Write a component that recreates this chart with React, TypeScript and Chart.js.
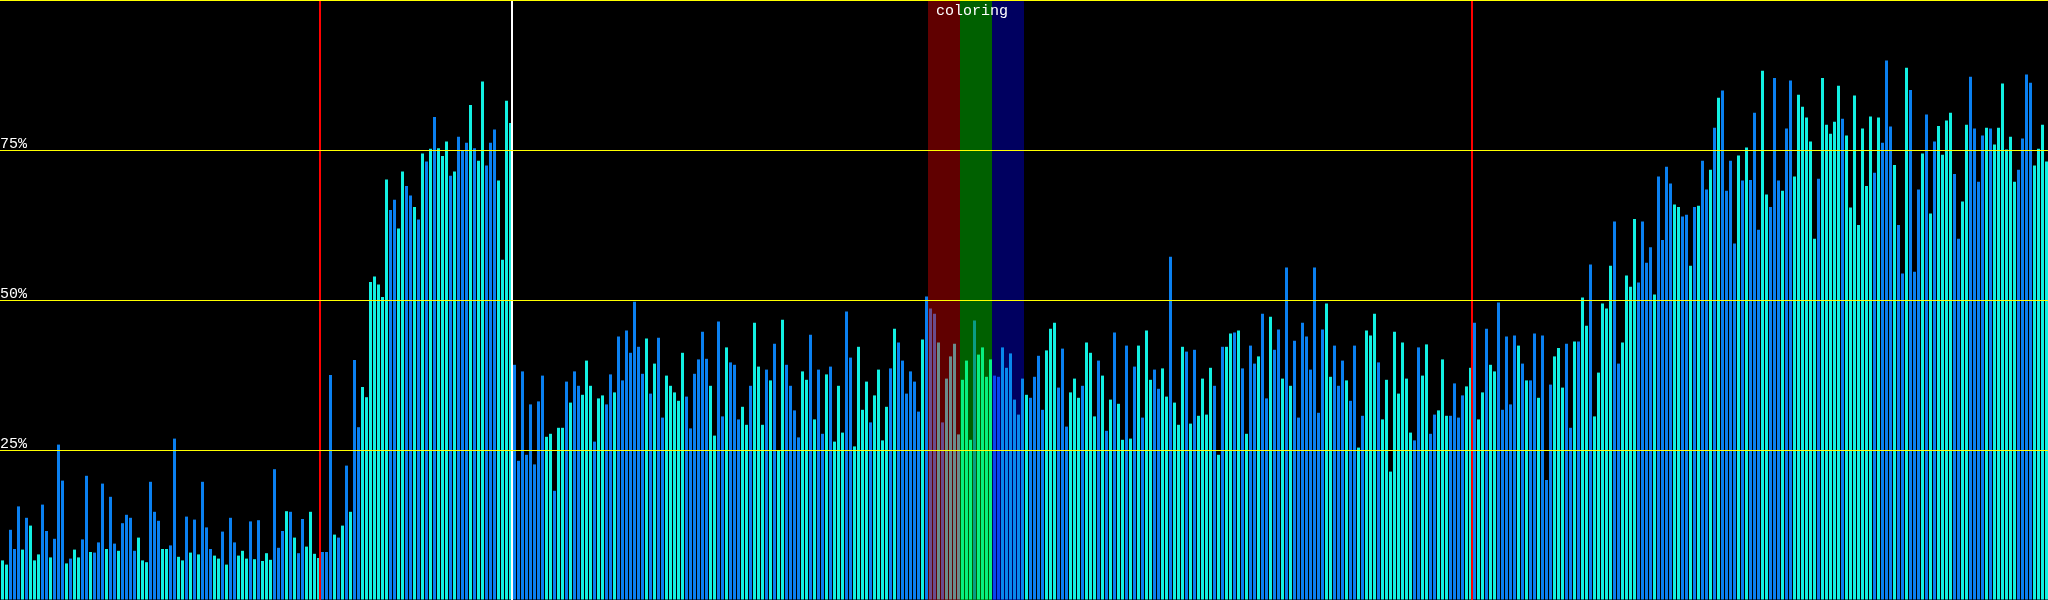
import React, { useEffect, useRef } from "react";
import { Chart, registerables } from "chart.js";

Chart.register(...registerables);

// Bar heights (% of full scale), 64 bars per segment, 512 bars in total
const valuesA = [6.6,5.9,11.7,8.5,15.6,8.4,13.7,12.4,6.6,7.6, 15.9,11.5,7.1,10.2,25.9,19.9,6.1,6.9,8.4,7.1, 10.1,20.7,8.0,7.9,9.6,19.4,8.5,17.2,9.4,8.2, 12.8,14.2,13.7,8.2,10.4,6.6,6.3,19.7,14.7,13.2, 8.5,8.5,9.1,26.9,7.2,6.6,13.9,7.9,13.4,7.6, 19.7,12.1,8.5,7.4,6.9,11.4,5.9,13.7,9.6,7.4, 8.2,6.9,13.1,6.8];
const valuesB = [13.3,6.5,7.8,6.7,21.8,8.7,11.5,14.8,14.7,10.4, 7.8,13.5,8.9,14.7,7.7,7.0,8.0,8.0,37.5,10.9, 10.4,12.4,22.4,14.7,40.0,28.8,35.5,33.8,53.0,53.9, 52.6,50.5,70.1,65.0,66.7,61.9,71.4,69.0,67.4,65.5, 63.4,74.4,73.1,75.2,80.5,75.3,74.0,76.4,70.7,71.4, 77.2,75.0,76.2,82.5,75.3,73.2,86.4,72.4,76.2,78.4, 69.9,56.7,83.2,79.5];
const valuesC = [39.2,23.2,38.1,24.2,32.6,22.6,33.1,37.4,27.2,27.7, 18.2,28.7,28.7,36.4,32.9,38.1,35.7,34.2,39.9,35.7, 26.4,33.6,34.1,32.6,37.6,34.6,43.9,36.6,44.9,41.2, 49.7,42.2,37.7,43.6,34.4,39.4,43.7,30.4,37.4,35.7, 34.6,33.2,41.2,33.9,28.6,37.7,40.1,44.7,40.2,35.7, 27.4,46.4,30.6,42.1,39.6,39.2,30.1,32.2,29.2,35.7, 46.2,38.9,29.2,38.4];
const valuesD = [36.6,42.7,25.0,46.7,39.2,35.7,31.6,27.1,38.1,36.7, 44.2,30.1,38.4,27.7,37.6,38.9,26.4,35.7,27.9,48.1, 40.4,25.6,42.2,31.7,36.4,29.6,34.1,38.4,26.6,32.2, 38.6,45.2,42.9,39.9,34.4,38.1,36.4,31.4,43.4,50.6, 48.6,47.7,42.9,29.6,36.9,40.6,42.7,27.6, 36.7,39.9,26.7,46.6,40.9,42.1,37.2,40.1, 37.4,37.2,42.1,38.7,41.1,33.4,30.9,36.9];
const valuesE = [34.2,33.7,37.2,40.7,31.7,41.6,45.2,46.2,35.4,41.9, 28.9,34.6,36.9,33.7,35.7,42.9,41.2,30.6,39.9,37.4, 28.2,33.4,44.6,32.7,26.7,42.4,26.9,38.9,42.4,30.4, 44.9,36.7,38.4,35.2,38.6,33.9,57.2,32.9,29.2,42.2, 41.4,29.4,41.7,30.7,36.9,30.9,38.7,35.7,24.2,42.2, 42.2,44.4,44.6,44.9,38.6,27.7,42.4,39.4,40.6,47.7, 33.6,47.2,41.7,45.1];
const valuesF = [36.9,55.4,35.7,43.2,30.4,46.2,43.9,38.4,55.4,31.2, 45.1,49.4,37.2,42.4,35.7,39.9,36.6,33.2,42.4,25.4, 30.7,44.9,44.1,47.7,39.6,30.1,36.7,21.4,44.7,34.4, 42.9,36.9,27.9,26.6,42.1,37.4,42.6,27.7,30.9,31.6, 40.1,30.7,30.7,36.1,30.4,34.1,35.6,38.7,46.2,30.1, 34.6,45.2,39.2,38.1,49.6,31.7,43.9,32.6,44.1,42.4, 39.4,36.6,36.6,44.4];
const valuesG = [33.7,44.1,20.0,35.9,40.6,42.0,35.4,42.7,28.7,43.1, 43.1,50.4,45.7,55.9,30.6,37.9,49.4,48.6,55.7,63.1, 39.4,42.9,54.1,52.2,63.5,52.9,63.1,56.2,58.8,50.9, 70.6,60.0,72.2,69.4,65.9,65.5,63.9,64.2,55.7,65.5, 65.7,73.2,68.4,71.7,78.7,83.7,84.9,68.2,73.2,59.4, 74.1,69.9,75.4,70.0,81.2,61.7,88.2,67.6,65.5,87.0, 69.9,68.2,78.6,86.6];
const valuesH = [70.6,84.2,82.2,80.4,76.4,60.2,70.2,87.0,79.2,77.7, 79.7,85.7,80.2,77.4,65.4,84.1,62.5,78.6,69.0,80.6, 71.2,80.4,76.2,89.9,78.9,72.5,62.5,54.4,88.7,85.0, 54.7,68.4,74.4,80.9,64.4,76.4,79.0,74.2,79.9,81.2, 71.0,60.2,66.4,79.2,87.2,78.6,69.7,77.4,78.7,78.6, 75.9,78.7,86.1,75.1,77.2,69.7,71.7,76.9,87.6,86.2, 72.4,75.2,79.2,73.1];

// Bar kind per bar (0 = blue, 1 = cyan)
const kindsA = [1,1,0,0,0,1,0,1,1,1, 0,0,1,0,0,0,1,0,1,1, 0,0,1,0,0,0,1,0,0,1, 0,0,0,0,1,1,1,0,0,0, 1,1,0,0,1,1,0,1,0,1, 0,0,0,1,1,0,1,0,0,1, 1,1,0,1];
const kindsB = [0,1,1,1,0,0,0,1,0,1, 0,0,1,1,1,1,0,0,0,1, 0,1,0,1,0,0,1,1,1,1, 1,1,1,0,0,1,1,0,0,1, 0,1,0,1,0,1,1,1,0,1, 0,0,0,1,0,1,1,0,0,0, 1,1,1,1];
const kindsC = [0,0,0,0,0,0,0,0,1,1, 0,1,1,0,1,0,0,1,1,1, 0,1,1,0,0,1,0,0,0,0, 0,0,0,1,0,1,0,0,1,1, 1,1,1,0,0,0,0,0,0,1, 1,0,0,1,0,0,0,1,1,0, 1,1,1,0];
const kindsD = [1,0,1,1,0,0,0,0,1,1, 0,1,0,0,1,0,1,1,1,0, 0,1,1,1,1,0,1,1,1,1, 0,1,0,0,0,0,0,0,1,0, 0,0,1,0,1,1,1,1, 1,1,1,0,1,1,1,1, 0,0,1,1,1,1,1,1];
const kindsE = [1,0,0,0,0,1,1,1,0,0, 0,1,1,1,0,1,1,1,0,1, 0,1,0,1,1,0,1,0,1,0, 1,1,0,0,1,1,0,1,1,1, 0,1,0,1,1,1,1,0,1,0, 1,1,0,1,0,1,0,0,1,0, 0,1,0,0];
const kindsF = [1,0,1,0,0,0,0,0,0,0, 0,1,1,0,0,0,1,0,0,1, 0,1,1,1,0,1,1,1,1,1, 1,1,1,0,0,1,1,0,0,1, 1,1,0,0,0,0,1,1,0,1, 1,0,1,1,0,0,0,0,0,1, 0,1,0,0];
const kindsG = [1,0,0,0,1,1,1,0,0,1, 0,1,1,0,1,1,1,1,1,0, 0,1,1,1,1,0,0,0,0,1, 0,0,0,0,1,1,0,0,1,0, 1,0,0,1,0,1,0,0,0,0, 1,0,1,0,0,0,1,1,0,0, 0,1,0,0];
const kindsH = [1,1,1,1,1,1,0,1,1,1, 1,1,0,1,1,1,1,1,1,1, 0,1,0,0,0,1,0,0,1,0, 0,0,1,0,1,0,1,1,1,1, 0,0,1,1,0,0,0,0,1,0, 1,1,1,1,1,1,0,0,0,0, 1,1,1,1];

// Y axis ticks (percent)
const yTicks = [0, 25, 50, 75, 100];
// Marker positions (bar index the marker sits before)
const markerBars = [80, 128, 368];
// Coloring bands: [first bar, bar after last]
const bandRanges = [[232, 240], [240, 248], [248, 256]];
const bandLabel = "coloring";

// Styles
const BASE_COLORS = ["#0A80F0", "#12F0E2"];
const BAND_FILLS = ["#600000", "#006000", "#000060"];
const BAND_TINTS = [
  ["#6A4C8E", "#6A8C8C"],
  ["#0A9C84", "#08F080"],
  ["#0846F0", "#0888EC"],
];
const MARKER_COLORS = ["#FF0000", "#FFFFFF", "#FF0000"];
const FONT = '"Liberation Mono", "DejaVu Sans Mono", monospace';

const values = [...valuesA, ...valuesB, ...valuesC, ...valuesD, ...valuesE, ...valuesF, ...valuesG, ...valuesH];
const kinds = [...kindsA, ...kindsB, ...kindsC, ...kindsD, ...kindsE, ...kindsF, ...kindsG, ...kindsH];

function colorFor(i: number): string {
  for (let b = 0; b < bandRanges.length; b++) {
    const [s, e] = bandRanges[b];
    if (i >= s && i < e) return BAND_TINTS[b][kinds[i]];
  }
  return BASE_COLORS[kinds[i]];
}

const overlayPlugin = {
  id: "overlay",
  beforeDraw(chart: any) {
    const { ctx, width, height } = chart;
    ctx.save();
    ctx.fillStyle = "#000000";
    ctx.fillRect(0, 0, width, height);
    ctx.restore();
  },
  beforeDatasetsDraw(chart: any) {
    const { ctx, chartArea } = chart;
    const xs = chart.scales.x;
    const pitch = xs.getPixelForValue(1) - xs.getPixelForValue(0);
    const edge = (i: number) => xs.getPixelForValue(i) - pitch / 2 - 0.5;
    ctx.save();
    bandRanges.forEach(([s, e], j) => {
      ctx.fillStyle = BAND_FILLS[j];
      ctx.fillRect(edge(s), chartArea.top, edge(e) - edge(s), chartArea.bottom - chartArea.top);
    });
    ctx.restore();
  },
  afterDatasetsDraw(chart: any) {
    const { ctx, chartArea } = chart;
    const xs = chart.scales.x;
    const pitch = xs.getPixelForValue(1) - xs.getPixelForValue(0);
    const edge = (i: number) => xs.getPixelForValue(i) - pitch / 2 - 0.5;
    ctx.save();
    markerBars.forEach((b, j) => {
      ctx.fillStyle = MARKER_COLORS[j];
      ctx.fillRect(edge(b) - 1, chartArea.top, 2, chartArea.bottom - chartArea.top);
    });
    ctx.fillStyle = "#FFFFFF";
    ctx.font = `15px ${FONT}`;
    ctx.textAlign = "left";
    ctx.textBaseline = "alphabetic";
    ctx.fillText(bandLabel, edge(bandRanges[0][0]) + 8, chartArea.top + 15);
    ctx.restore();
  },
};

export default function App() {
  const ref = useRef<HTMLCanvasElement | null>(null);
  useEffect(() => {
    document.body.style.margin = "0";
    document.body.style.background = "#000";
    const canvas = ref.current;
    if (!canvas) return;
    const points = values.map((v, i) => ({ x: i, y: v }));
    const chart = new Chart(canvas, {
      type: "bar",
      data: {
        datasets: [
          {
            data: points as any,
            backgroundColor: values.map((_, i) => colorFor(i)),
            borderWidth: 0,
            barThickness: 3,
            inflateAmount: 0,
          } as any,
        ],
      },
      options: {
        responsive: false,
        animation: false,
        devicePixelRatio: 1,
        layout: { padding: 0 },
        plugins: { legend: { display: false }, tooltip: { enabled: false } },
        scales: {
          x: {
            type: "linear",
            min: -0.625,
            max: values.length - 0.625,
            display: false,
            offset: false,
          },
          y: {
            min: yTicks[0],
            max: yTicks[yTicks.length - 1],
            position: "left",
            border: { display: false },
            grid: { color: "#FFFF00", lineWidth: 1, drawTicks: false, z: 1 },
            afterBuildTicks: (s: any) => {
              s.ticks = yTicks.map((v) => ({ value: v }));
            },
            afterFit: (s: any) => {
              s.width = 0;
              s.paddingTop = 0;
              s.paddingBottom = 0;
              s.paddingLeft = 0;
              s.paddingRight = 0;
            },
            ticks: {
              z: 2,
              mirror: true,
              padding: 0,
              labelOffset: -6,
              color: "#FFFFFF",
              font: { family: FONT, size: 15 },
              callback: (v: any) => (v > yTicks[0] && v < yTicks[yTicks.length - 1] ? `${v}%` : ""),
            },
          } as any,
        },
      },
      plugins: [overlayPlugin],
    });
    return () => chart.destroy();
  }, []);
  return <canvas ref={ref} width={2048} height={600} style={{ display: "block" }} />;
}
